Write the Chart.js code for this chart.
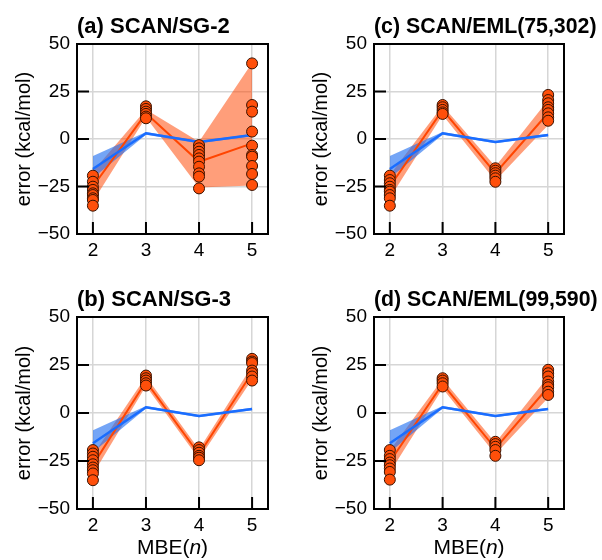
<!DOCTYPE html>
<html>
<head>
<meta charset="utf-8">
<script src="https://cdn.jsdelivr.net/npm/chart.js@4.4.1/dist/chart.umd.min.js"></script>
<style>
  body { margin: 0; background: #fff; }
  #wrap { position: relative; width: 602px; height: 560px; }
  canvas { position: absolute; }
</style>
</head>
<body>
<div id="wrap">
  <canvas id="panelA" width="300" height="275" style="left:0;top:0"></canvas>
  <canvas id="panelC" width="305" height="275" style="left:297px;top:0"></canvas>
  <canvas id="panelB" width="300" height="285" style="left:0;top:275px"></canvas>
  <canvas id="panelD" width="305" height="285" style="left:297px;top:275px"></canvas>
</div>
<script>
const mbeOrders = [2, 3, 4, 5];
const yTicks = [-50, -25, 0, 25, 50];

// blue reference curve (same in every panel)
const refMean = [-15.8, 3.0, -1.6, 2.1];
const refLow = [-20.5, 2.3, -2.2, 1.5];
const refHigh = [-9.0, 3.7, -1.0, 2.7];

// (a) SCAN/SG-2
const sg2Mean = [-25, 13.5, -12, -2.3];
const sg2Low = [-33, 11.5, -25.5, -24.5];
const sg2High = [-17, 15.5, -1.5, 40];
const sg2Points = [
  [-19.3, -22.5, -25.1, -26.8, -28.6, -29.5, -31.2, -32.1, -35.1],
  [17.2, 15.8, 14.4, 13.2, 11.8, 10.9],
  [-3.2, -4.9, -6.7, -8.4, -10.2, -11.9, -14.6, -18.1, -19.8, -26],
  [39.8, 17.9, 14.4, 3.9, -3.5, -8.4, -9.3, -14.2, -18.4, -24.2]
];

// (b) SCAN/SG-3
const sg3Mean = [-27, 16.4, -21.5, 21];
const sg3Low = [-32, 14, -24, 17.5];
const sg3High = [-22, 19, -19, 24.5];
const sg3Points = [
  [-19.3, -21.1, -22.8, -24.6, -26.7, -28.4, -29.8, -31.5, -35],
  [19.5, 18.1, 16.9, 15.5, 14.3],
  [-17.9, -19.3, -20.7, -22.3, -23.3, -24.6],
  [28.2, 26.8, 26, 22.1, 20.7, 19, 16.9]
];

// (c) SCAN/EML(75,302)
const eml75Mean = [-25, 15.3, -18, 13.7];
const eml75Low = [-31, 12.6, -22, 7.4];
const eml75High = [-19, 17.5, -14.5, 20.5];
const eml75Points = [
  [-19.3, -21.6, -23.3, -25.1, -26.8, -27.7, -29.5, -31.2, -35.1],
  [17.9, 16.7, 15.3, 14.0, 13.2],
  [-15.4, -16.7, -18.0, -19.3, -20.7, -22.5],
  [23.2, 20.5, 18.8, 16.7, 15.3, 13.5, 11.4, 9.6]
];

// (d) SCAN/EML(99,590)
const eml99Mean = [-25.4, 15.2, -18.5, 13.4];
const eml99Low = [-31, 12.7, -21.5, 8];
const eml99High = [-19.5, 17.7, -15.5, 19];
const eml99Points = [
  [-19.3, -22.3, -24, -25.8, -27.2, -28.9, -30.7, -34.7],
  [18.1, 16.9, 15.5, 13.8],
  [-15, -16.2, -17.6, -19.3, -22.3],
  [22.5, 20.7, 19, 16.4, 14.6, 13.4, 11.1, 9.4]
];

const FONT = '"Liberation Sans", Arial, Helvetica, sans-serif';
Chart.defaults.font.family = FONT;
Chart.defaults.color = '#000';

// box, inward ticks, panel title and the MBE(n) label
const framePlugin = {
  id: 'frame',
  afterDraw(chart, args, opts) {
    const { ctx, chartArea: a } = chart;
    const x = chart.scales.x, y = chart.scales.y;
    ctx.save();
    ctx.strokeStyle = '#000';
    ctx.lineWidth = 2;
    ctx.beginPath();
    yTicks.forEach(v => {
      const py = y.getPixelForValue(v);
      ctx.moveTo(a.left, py);
      ctx.lineTo(a.left + 12, py);
    });
    mbeOrders.forEach(v => {
      const px = x.getPixelForValue(v);
      ctx.moveTo(px, a.bottom);
      ctx.lineTo(px, a.bottom - 12);
    });
    ctx.stroke();
    ctx.strokeRect(a.left, a.top, a.right - a.left, a.bottom - a.top);

    ctx.fillStyle = '#000';
    ctx.textBaseline = 'middle';
    ctx.textAlign = 'left';
    ctx.font = 'bold ' + opts.titleSize + 'px ' + FONT;
    ctx.fillText(opts.title, a.left, a.top - 17);

    if (opts.xTitle) {
      const parts = [['MBE(', ''], ['n', 'italic '], [')', '']];
      let w = 0;
      parts.forEach(p => { ctx.font = p[1] + '21px ' + FONT; w += ctx.measureText(p[0]).width; });
      let cx = (a.left + a.right) / 2 - w / 2;
      parts.forEach(p => {
        ctx.font = p[1] + '21px ' + FONT;
        ctx.fillText(p[0], cx, opts.xTitleY);
        cx += ctx.measureText(p[0]).width;
      });
    }
    ctx.restore();
  }
};

function xy(arr) {
  return arr.map((v, i) => ({ x: mbeOrders[i], y: v }));
}

function band(arr, fill, color, order) {
  return {
    data: xy(arr),
    borderColor: 'transparent',
    backgroundColor: color,
    pointRadius: 0,
    fill: fill,
    tension: 0,
    order: order
  };
}

function buildPanel(id, title, mean, low, high, points, bottomRow, rightCol) {
  const scatter = [];
  points.forEach((col, i) => col.forEach(v => scatter.push({ x: mbeOrders[i], y: v })));

  new Chart(document.getElementById(id), {
    type: 'line',
    data: {
      datasets: [
        {
          data: scatter,
          showLine: false,
          pointRadius: 5.5,
          pointBackgroundColor: '#ff4f0a',
          pointBorderColor: '#3a1200',
          pointBorderWidth: 1,
          order: 0
        },
        { data: xy(refMean), borderColor: '#1a6dff', borderWidth: 2.5, pointRadius: 0, tension: 0, order: 1 },
        { data: xy(mean), borderColor: '#ff4500', borderWidth: 2, pointRadius: 0, tension: 0, order: 2 },
        band(refLow, false, 'transparent', 4),
        band(refHigh, '-1', 'rgba(30, 110, 240, 0.62)', 3),
        band(low, false, 'transparent', 6),
        band(high, '-1', 'rgba(255, 69, 0, 0.52)', 5)
      ]
    },
    options: {
      responsive: false,
      animation: false,
      layout: { padding: { left: 0, right: rightCol ? 38 : 32, top: bottomRow ? 42 : 44, bottom: 0 } },
      plugins: {
        legend: { display: false },
        tooltip: { enabled: false },
        frame: { title: title, titleSize: rightCol ? 21.3 : 22, xTitle: bottomRow, xTitleY: 273 }
      },
      scales: {
        x: {
          type: 'linear',
          min: 1.7,
          max: 5.3,
          afterBuildTicks: s => { s.ticks = mbeOrders.map(v => ({ value: v })); },
          afterFit: s => { s.height = bottomRow ? 51 : 41; },
          grid: { color: '#d6d6d6', lineWidth: 1.5, drawTicks: false },
          border: { display: false },
          ticks: { font: { size: 19 }, padding: 5, maxRotation: 0, autoSkip: false }
        },
        y: {
          min: -50,
          max: 50,
          afterBuildTicks: s => { s.ticks = yTicks.map(v => ({ value: v })); },
          afterFit: s => { s.width = 77; },
          grid: { color: '#d6d6d6', lineWidth: 1.5, drawTicks: false },
          border: { display: false },
          ticks: {
            font: { size: 19 },
            padding: 7,
            callback: v => (v < 0 ? '\u2212' + Math.abs(v) : String(v))
          },
          title: {
            display: true,
            text: 'error (kcal/mol)',
            font: { size: 20 },
            padding: { top: 12, bottom: 0 }
          }
        }
      }
    },
    plugins: [framePlugin]
  });
}

buildPanel('panelA', '(a) SCAN/SG-2', sg2Mean, sg2Low, sg2High, sg2Points, false, false);
buildPanel('panelC', '(c) SCAN/EML(75,302)', eml75Mean, eml75Low, eml75High, eml75Points, false, true);
buildPanel('panelB', '(b) SCAN/SG-3', sg3Mean, sg3Low, sg3High, sg3Points, true, false);
buildPanel('panelD', '(d) SCAN/EML(99,590)', eml99Mean, eml99Low, eml99High, eml99Points, true, true);
</script>
</body>
</html>
